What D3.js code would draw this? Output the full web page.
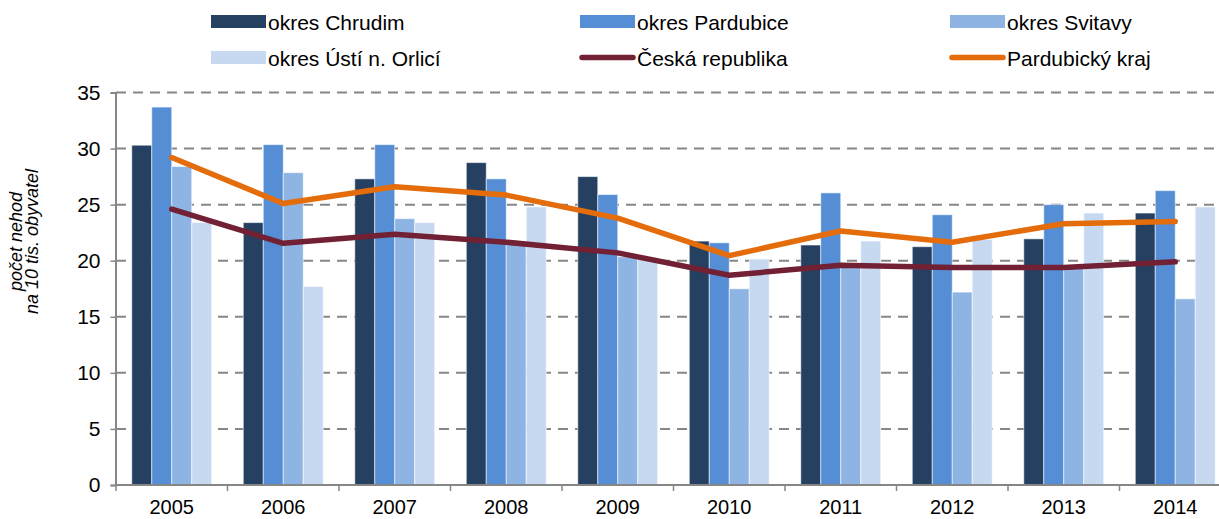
<!DOCTYPE html>
<html>
<head>
<meta charset="utf-8">
<script src="https://cdn.jsdelivr.net/npm/d3@7"></script>
<style>
  body { margin: 0; background: #fff; }
  svg { font-family: "Liberation Sans", Arial, sans-serif; }
</style>
</head>
<body>
<svg id="chart"></svg>
<script>
// data
const years = ["2005", "2006", "2007", "2008", "2009", "2010", "2011", "2012", "2013", "2014"];
const barSeries = ["okres Chrudim", "okres Pardubice", "okres Svitavy", "okres Ústí n. Orlicí"];
const chrudim   = [30.3, 23.4, 27.3, 28.75, 27.5, 21.75, 21.4, 21.25, 21.95, 24.25];
const pardubice = [33.7, 30.35, 30.35, 27.3, 25.9, 21.6, 26.05, 24.1, 25.0, 26.25];
const svitavy   = [28.4, 27.85, 23.75, 21.5, 20.35, 17.5, 19.6, 17.2, 19.5, 16.6];
const ustiOrl   = [23.4, 17.7, 23.4, 24.8, 20.3, 20.15, 21.75, 21.9, 24.25, 24.8];
const lineSeries = ["Česká republika", "Pardubický kraj"];
const cr        = [24.6, 21.55, 22.35, 21.65, 20.7, 18.7, 19.6, 19.4, 19.4, 19.9];
const pardKraj  = [29.2, 25.1, 26.6, 25.85, 23.8, 20.45, 22.65, 21.65, 23.3, 23.5];
const yTicks = [0, 5, 10, 15, 20, 25, 30, 35];

const barValues = [chrudim, pardubice, svitavy, ustiOrl];
const lineValues = [cr, pardKraj];
const barColors = ["#254061", "#558ed5", "#8eb4e3", "#c6d9f1"];
const lineColors = ["#722033", "#e46c0a"];

const W = 1219, H = 519;
const svg = d3.select("#chart").attr("width", W).attr("height", H);

const x0 = d3.scaleBand().domain(years).range([116, 116 + 111.5 * years.length]).padding(0);
const x1 = d3.scaleBand().domain(barSeries).range([0, x0.bandwidth()]).paddingInner(0).paddingOuter(0.79);
const y = d3.scaleLinear().domain([0, 35]).range([485, 92.5]);

// gridlines (behind bars)
svg.append("g")
  .selectAll("line")
  .data(yTicks.filter(d => d > 0))
  .join("line")
  .attr("x1", 116).attr("x2", W)
  .attr("y1", d => y(d)).attr("y2", d => y(d))
  .attr("stroke", "#868686")
  .attr("stroke-width", 2)
  .attr("stroke-dasharray", "10,7");

// bars
const groups = svg.append("g")
  .selectAll("g")
  .data(years)
  .join("g")
  .attr("transform", d => `translate(${x0(d)},0)`);

groups.selectAll("rect")
  .data((yr, i) => barSeries.map((s, j) => ({ s, j, v: barValues[j][i] })))
  .join("rect")
  .attr("x", d => x1(d.s))
  .attr("width", x1.bandwidth())
  .attr("y", d => y(d.v))
  .attr("height", d => y(0) - y(d.v))
  .attr("fill", d => barColors[d.j])
  .attr("stroke", "rgba(255,255,255,0.55)")
  .attr("stroke-width", 1);

// lines
const line = d3.line()
  .x((d, i) => x0(years[i]) + x0.bandwidth() / 2)
  .y(d => y(d));

lineValues.forEach((vals, k) => {
  svg.append("path")
    .datum(vals)
    .attr("d", line)
    .attr("fill", "none")
    .attr("stroke", lineColors[k])
    .attr("stroke-width", 5.5)
    .attr("stroke-linejoin", "round")
    .attr("stroke-linecap", "round");
});

// y axis
const yAxis = svg.append("g")
  .attr("transform", "translate(115.5,0)")
  .call(d3.axisLeft(y).tickValues(yTicks).tickSize(5).tickPadding(10));
yAxis.select(".domain").attr("stroke", "#868686").attr("stroke-width", 2);
yAxis.selectAll(".tick line").attr("stroke", "#868686").attr("stroke-width", 1.5);
yAxis.selectAll("text").attr("font-size", 21).attr("fill", "#000").attr("font-family", "Liberation Sans, Arial, sans-serif");

// x axis
const xAxisG = svg.append("g").attr("transform", `translate(0,${y(0)})`);
xAxisG.append("line")
  .attr("x1", 115).attr("x2", W)
  .attr("stroke", "#868686").attr("stroke-width", 2);
xAxisG.selectAll(".xtick")
  .data(years)
  .join("line")
  .attr("class", "xtick")
  .attr("x1", d => x0(d)).attr("x2", d => x0(d))
  .attr("y1", 0).attr("y2", 6)
  .attr("stroke", "#868686").attr("stroke-width", 1.5);
xAxisG.selectAll("text")
  .data(years)
  .join("text")
  .attr("x", d => x0(d) + x0.bandwidth() / 2)
  .attr("y", 29)
  .attr("text-anchor", "middle")
  .attr("font-size", 20)
  .text(d => d);

// y axis title
const title = svg.append("text")
  .attr("transform", "translate(0,241.5) rotate(-90)")
  .attr("text-anchor", "middle")
  .attr("font-size", 18)
  .attr("font-style", "italic");
title.append("tspan").attr("x", 0).attr("y", 22).text("počet nehod");
title.append("tspan").attr("x", 0).attr("y", 38).text("na 10 tis. obyvatel");

// legend
const legendItems = [
  { name: barSeries[0], type: "bar", color: barColors[0] },
  { name: barSeries[1], type: "bar", color: barColors[1] },
  { name: barSeries[2], type: "bar", color: barColors[2] },
  { name: barSeries[3], type: "bar", color: barColors[3] },
  { name: lineSeries[0], type: "line", color: lineColors[0] },
  { name: lineSeries[1], type: "line", color: lineColors[1] }
];
const legX = [211, 580, 950];
const legY = [21.5, 57.5];

const leg = svg.append("g")
  .selectAll("g")
  .data(legendItems)
  .join("g")
  .attr("transform", (d, i) => `translate(${legX[i % 3]},${legY[Math.floor(i / 3)]})`);

leg.filter(d => d.type === "bar").append("rect")
  .attr("x", 0).attr("y", -6.5).attr("width", 55).attr("height", 13)
  .attr("fill", d => d.color);
leg.filter(d => d.type === "line").append("line")
  .attr("x1", 2).attr("x2", 53).attr("y1", 0).attr("y2", 0)
  .attr("stroke", d => d.color).attr("stroke-width", 5.5).attr("stroke-linecap", "round");
leg.append("text")
  .attr("x", 57).attr("y", 8)
  .attr("font-size", 21)
  .text(d => d.name);
</script>
</body>
</html>
